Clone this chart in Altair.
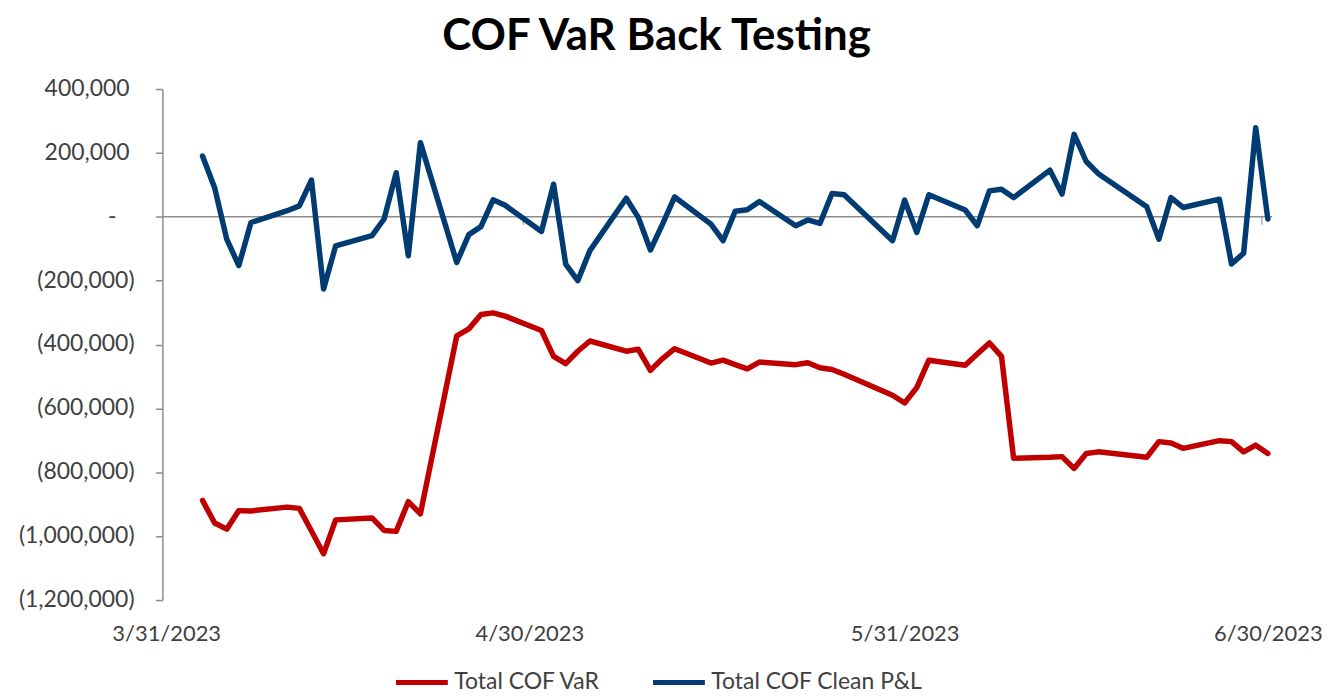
import altair as alt
import pandas as pd

dates = [
    "2023-04-03", "2023-04-04", "2023-04-05", "2023-04-06", "2023-04-07",
    "2023-04-10", "2023-04-11", "2023-04-12", "2023-04-13", "2023-04-14",
    "2023-04-17", "2023-04-18", "2023-04-19", "2023-04-20", "2023-04-21",
    "2023-04-24", "2023-04-25", "2023-04-26", "2023-04-27", "2023-04-28",
    "2023-05-01", "2023-05-02", "2023-05-03", "2023-05-04", "2023-05-05",
    "2023-05-08", "2023-05-09", "2023-05-10", "2023-05-11", "2023-05-12",
    "2023-05-15", "2023-05-16", "2023-05-17", "2023-05-18", "2023-05-19",
    "2023-05-22", "2023-05-23", "2023-05-24", "2023-05-25", "2023-05-26",
    "2023-05-30", "2023-05-31", "2023-06-01", "2023-06-02",
    "2023-06-05", "2023-06-06", "2023-06-07", "2023-06-08", "2023-06-09",
    "2023-06-12", "2023-06-13", "2023-06-14", "2023-06-15", "2023-06-16",
    "2023-06-20", "2023-06-21", "2023-06-22", "2023-06-23",
    "2023-06-26", "2023-06-27", "2023-06-28", "2023-06-29", "2023-06-30",
]

var_values = [
    -888000, -959000, -978000, -920000, -921000,
    -909000, -913000, -984000, -1055000, -949000,
    -943000, -982000, -985000, -892000, -930000,
    -373000, -351000, -306000, -301000, -311000,
    -356000, -437000, -460000, -421000, -389000,
    -421000, -415000, -481000, -444000, -413000,
    -458000, -449000, -463000, -476000, -455000,
    -463000, -457000, -473000, -478000, -493000,
    -559000, -583000, -535000, -449000,
    -465000, -430000, -395000, -437000, -756000,
    -753000, -751000, -788000, -741000, -736000,
    -753000, -704000, -708000, -725000,
    -701000, -704000, -736000, -715000, -741000,
]

pnl_values = [
    190000, 91000, -70000, -153000, -18000,
    19000, 34000, 115000, -226000, -91000,
    -59000, -7000, 138000, -122000, 232000,
    -143000, -56000, -31000, 53000, 36000,
    -46000, 102000, -148000, -200000, -106000,
    58000, -2000, -104000, -23000, 62000,
    -23000, -75000, 17000, 22000, 48000,
    -28000, -10000, -21000, 73000, 69000,
    -75000, 52000, -49000, 69000,
    21000, -28000, 81000, 86000, 60000,
    146000, 71000, 258000, 173000, 135000,
    31000, -70000, 60000, 29000,
    55000, -148000, -114000, 279000, -7000,
]

series_names = ["Total COF VaR", "Total COF Clean P&L"]
series_colors = ["#C00000", "#003B71"]
tick_dates = ["2023-03-31", "2023-04-30", "2023-05-31", "2023-06-30"]
y_ticks = [400000, 200000, 0, -200000, -400000, -600000, -800000, -1000000, -1200000]


def accounting(v):
    if v == 0:
        return "-"
    if v < 0:
        return "({:,})".format(-v)
    return "{:,}".format(v)


df = pd.DataFrame({
    "date": dates * 2,
    "value": var_values + pnl_values,
    "series": [series_names[0]] * len(dates) + [series_names[1]] * len(dates),
})

ylab = pd.DataFrame({
    "tick": y_ticks,
    "label": [accounting(v) for v in y_ticks],
    "kind": ["zero" if v == 0 else ("neg" if v < 0 else "pos") for v in y_ticks],
})

FONT = "Lato"
LABEL_COLOR = "#404040"
AXIS_GRAY = "#8C8C8C"

y_scale = alt.Scale(domain=[-1200000, 400000], nice=False)
x_scale = alt.Scale(
    type="utc",
    domain=[
        alt.DateTime(year=2023, month=3, date=30, hours=16, minutes=30, utc=True),
        alt.DateTime(year=2023, month=6, date=30, hours=8, minutes=40, utc=True),
    ],
)

x_axis = alt.Axis(
    values=[alt.DateTime(year=2023, month=int(d[5:7]), date=int(d[8:10]), utc=True) for d in tick_dates],
    labelExpr="utcFormat(datum.value, '%-m/%-d/%Y')",
    domain=False, ticks=False, grid=False, title=None,
    labelFontSize=22, labelFont=FONT, labelColor=LABEL_COLOR,
    labelPadding=24, labelFlush=False, labelOverlap=False,
)

y_axis = alt.Axis(
    values=y_ticks, labels=False,
    domain=True, domainColor=AXIS_GRAY, domainWidth=1.5,
    ticks=True, tickSize=7, tickColor=AXIS_GRAY, tickWidth=1.5,
    grid=False, title=None,
)

zero_rule = alt.Chart(pd.DataFrame({"zero": [0]})).mark_rule(
    color=AXIS_GRAY, strokeWidth=1.5
).encode(y=alt.Y("zero:Q", scale=y_scale, axis=y_axis))

tick_marks = alt.Chart(pd.DataFrame({"date": tick_dates[1:], "zero": [0] * 3})).mark_tick(
    color=AXIS_GRAY, orient="vertical", size=8, thickness=1.5, yOffset=4, xOffset=-6
).encode(
    x=alt.X("date:T", scale=x_scale, axis=x_axis),
    y=alt.Y("zero:Q", scale=y_scale),
)


def label_layer(kind, xpos):
    return alt.Chart(ylab).transform_filter(
        alt.datum.kind == kind
    ).mark_text(
        align="right", baseline="middle", font=FONT, fontSize=23, color=LABEL_COLOR
    ).encode(
        x=alt.value(xpos),
        y=alt.Y("tick:Q", scale=y_scale),
        text="label:N",
    )


lab_neg = label_layer("neg", -28)
lab_pos = label_layer("pos", -33)
lab_zero = label_layer("zero", -46)

lines = alt.Chart(df).mark_line(strokeWidth=5.5, strokeJoin="round", strokeCap="round").encode(
    x=alt.X("date:T", scale=x_scale, axis=x_axis),
    y=alt.Y("value:Q", scale=y_scale, axis=y_axis),
    color=alt.Color(
        "series:N",
        scale=alt.Scale(domain=series_names, range=series_colors),
        sort=series_names,
        legend=alt.Legend(
            title=None, orient="none", legendX=232, legendY=567,
            direction="horizontal", symbolType="stroke", symbolSize=2704,
            symbolStrokeWidth=5, labelFontSize=23, labelFont=FONT, labelLimit=0,
            labelColor=LABEL_COLOR, labelOffset=4, columnPadding=42, padding=0,
        ),
    ),
    order=alt.Order("date:T"),
)

chart = alt.layer(zero_rule, tick_marks, lab_neg, lab_pos, lab_zero, lines).properties(
    width=1114,
    height=513,
    padding={"left": 155, "top": 80, "right": 52, "bottom": 92},
    autosize=alt.AutoSizeParams(type="none"),
    title=alt.TitleParams(
        "COF VaR Back Testing", fontSize=44, font=FONT, fontWeight="bold",
        color="#000000", dx=-61, offset=19, anchor="middle",
    ),
).configure_view(stroke=None)

chart.save("out.html", embed_options={"renderer": "svg", "actions": False})
